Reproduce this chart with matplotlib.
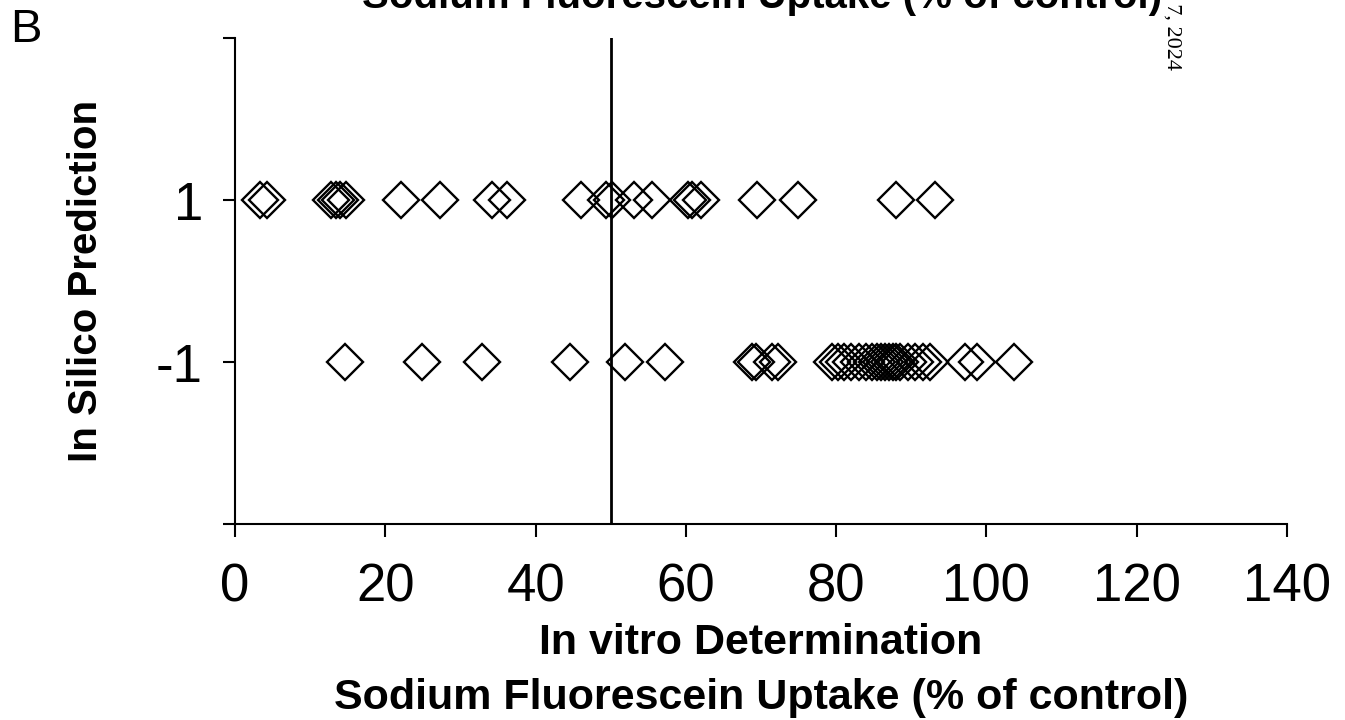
import matplotlib
matplotlib.use("Agg")
import matplotlib.pyplot as plt

plt.rcParams['font.family'] = ['Liberation Sans', 'DejaVu Sans']

# In silico prediction = 1
pred_pos_x = [3.3, 4.3, 12.8, 13.5, 14.0, 14.8, 22.1, 27.3, 34.2, 36.2, 46.1,
              49.4, 50.2, 53.1, 55.5, 60.3, 60.8, 62.0, 69.5, 74.9, 87.9, 93.2]
# In silico prediction = -1
pred_neg_x = [14.6, 24.9, 32.9, 44.6, 51.9, 57.2, 68.8, 69.3, 71.5, 72.2,
              79.5, 80.2, 81.0, 82.0, 83.0, 84.0, 84.8, 85.5, 86.0, 86.5,
              87.0, 87.5, 88.0, 88.5, 89.5, 90.5, 91.5, 92.5, 97.2, 98.8, 103.7]

x_ticks = [0, 20, 40, 60, 80, 100, 120, 140]
y_ticks = [-3, -1, 1, 3]
y_tick_labels = ['', '-1', '1', '']
threshold = 50
xlabel = 'In vitro Determination\nSodium Fluorescein Uptake (% of control)'
ylabel = 'In Silico Prediction'
title_text = 'Sodium Fluorescein Uptake (% of control)'

fig = plt.figure(figsize=(13.45, 7.2), dpi=100)
ax = fig.add_axes([235/1345, 1-524/720, (1287-235)/1345, (524-38)/720])

mk = dict(marker='D', linestyle='none', markersize=18.5, markerfacecolor='none',
          markeredgecolor='black', markeredgewidth=1.7, clip_on=False)
ax.plot(pred_pos_x, [1]*len(pred_pos_x), **mk)
ax.plot(pred_neg_x, [-1]*len(pred_neg_x), **mk)
ax.axvline(threshold, color='black', linewidth=2.0)

ax.set_xlim(0, 140)
ax.set_ylim(-3, 3)
ax.set_xticks(x_ticks)
ax.set_yticks(y_ticks)
ax.set_yticklabels(y_tick_labels)
ax.spines['top'].set_visible(False)
ax.spines['right'].set_visible(False)
for s in ['left', 'bottom']:
    ax.spines[s].set_linewidth(1.5)
ax.tick_params(axis='both', direction='out', length=9, width=1.5, labelsize=38, pad=14)
ax.tick_params(axis='x', pad=19)

ax.set_xlabel(xlabel, fontsize=31, fontweight='bold', labelpad=7, linespacing=1.5)
ax.set_ylabel(ylabel, fontsize=29, fontweight='bold', labelpad=37)

fig.text(762/1345, 1-8/720, title_text, ha='center', va='baseline',
         fontsize=29, fontweight='bold')
fig.text(10/1345, 1-8/720, 'B', ha='left', va='top', fontsize=34)
fig.text(1171/1345, 1-70/720, 'on May 7, 2024', ha='center', va='bottom',
         rotation=270, fontsize=16, family=['Liberation Serif', 'DejaVu Serif'])

fig.savefig('out.png', dpi=100)
